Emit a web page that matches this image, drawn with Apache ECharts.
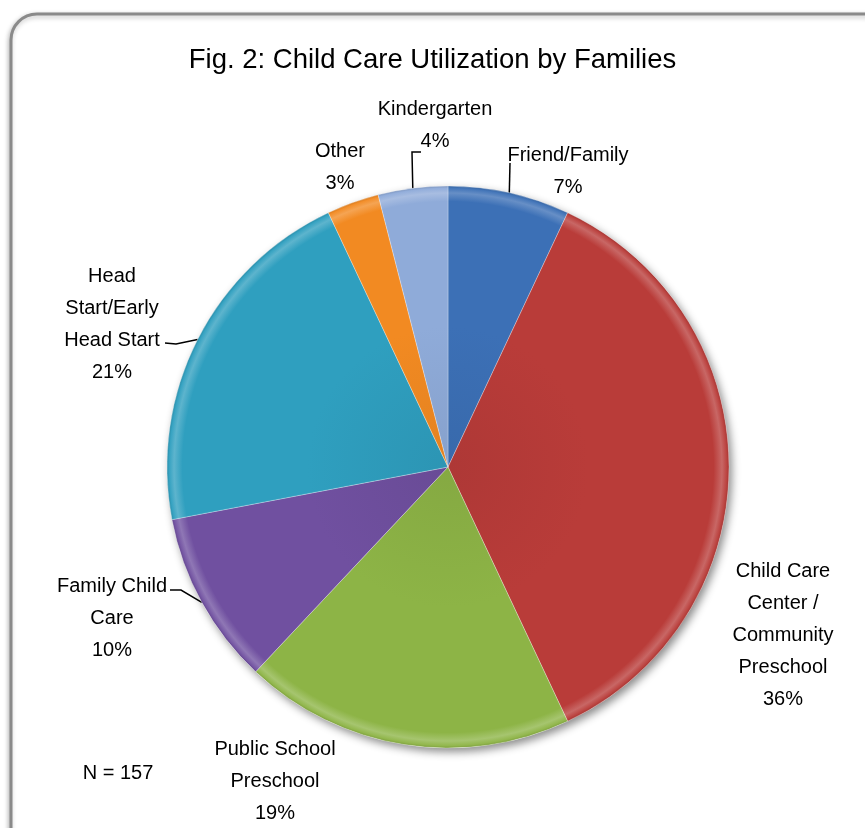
<!DOCTYPE html>
<html>
<head>
<meta charset="utf-8">
<title>Child Care Utilization by Families</title>
<script src="https://cdn.jsdelivr.net/npm/echarts@6/dist/echarts.min.js"></script>
<style>
  html, body { margin: 0; padding: 0; background: #fff; }
  #chart { width: 865px; height: 828px; }
</style>
</head>
<body>
<div id="chart"></div>
<script>
// Care arrangements, clockwise from 12 o'clock
const categories = [
  'Friend/Family',
  'Child Care Center / Community Preschool',
  'Public School Preschool',
  'Family Child Care',
  'Head Start/Early Head Start',
  'Other',
  'Kindergarten'
];
// Share of families (percent)
const shares = [7, 36, 19, 10, 21, 3, 4];
// Wrapped label text for each slice
const labelNames = [
  'Friend/Family',
  'Child Care\nCenter /\nCommunity\nPreschool',
  'Public School\nPreschool',
  'Family Child\nCare',
  'Head\nStart/Early\nHead Start',
  'Other',
  'Kindergarten'
];
const sampleNote = 'N = 157';
const titleText = 'Fig. 2: Child Care Utilization by Families';

// Slice colours
const colors = ['#3c70b6', '#b93c39', '#8db446', '#7050a0', '#2f9fbf', '#f28a22', '#8fabd9'];

// Pie geometry
const CX = 448, CY = 467, R = 281;
const FONT = '"Liberation Sans Narrow", "Liberation Sans", Arial, sans-serif';

// Where each label block sits (text centre) and whether it has a leader line
const labelPlacement = [
  { x: 568, y: 171, line: true },
  { x: 783, y: 635, line: false },
  { x: 275, y: 781, line: false },
  { x: 112, y: 618, line: true },
  { x: 112, y: 324, line: true },
  { x: 340, y: 167, line: false },
  { x: 435, y: 125, line: true }
];

function shade(hex, f) {
  const n = parseInt(hex.slice(1), 16);
  let r = (n >> 16) & 255, g = (n >> 8) & 255, b = n & 255;
  if (f >= 0) {
    r = r + (255 - r) * f; g = g + (255 - g) * f; b = b + (255 - b) * f;
  } else {
    r = r * (1 + f); g = g * (1 + f); b = b * (1 + f);
  }
  return 'rgb(' + Math.round(r) + ',' + Math.round(g) + ',' + Math.round(b) + ')';
}

// Rim bevel: flat fill with a light band near the outer edge
function bevelFill(hex) {
  return {
    type: 'radial', x: CX, y: CY, r: R, global: true,
    colorStops: [
      { offset: 0, color: shade(hex, -0.06) },
      { offset: 0.5, color: hex },
      { offset: 0.945, color: hex },
      { offset: 0.975, color: shade(hex, 0.22) },
      { offset: 0.992, color: shade(hex, 0.04) },
      { offset: 1, color: shade(hex, -0.12) }
    ]
  };
}

// Point on the rim at the middle of slice i
const total = shares.reduce((a, b) => a + b, 0);
function rimPoint(i) {
  let before = 0;
  for (let k = 0; k < i; k++) before += shares[k];
  const a = (before + shares[i] / 2) / total * Math.PI * 2;
  return [CX + R * Math.sin(a), CY - R * Math.cos(a)];
}

// Leader line end points next to the label text
const leaderEnds = {
  0: [[510, 163]],
  3: [[181, 590], [170, 590]],
  4: [[176, 344], [165, 343]],
  6: [[412, 152], [421, 152]]
};

const chart = echarts.init(document.getElementById('chart'), null, { renderer: 'canvas' });

const pieData = categories.map((name, i) => ({
  name: name,
  value: shares[i],
  itemStyle: { color: bevelFill(colors[i]) },
  labelLine: { show: labelPlacement[i].line }
}));

chart.setOption({
  animation: false,
  backgroundColor: '#ffffff',
  title: {
    text: titleText,
    left: 'center',
    top: 41,
    textStyle: { fontFamily: FONT, fontSize: 27.5, fontWeight: 'normal', color: '#000' }
  },
  graphic: [
    {
      type: 'rect',
      z: -10,
      shape: { x: 11, y: 14, width: 880, height: 840, r: 26 },
      style: {
        fill: '#ffffff', stroke: '#8a8a8a', lineWidth: 3,
        shadowBlur: 5, shadowColor: 'rgba(0,0,0,0.25)', shadowOffsetX: -1, shadowOffsetY: 2
      }
    },
    {
      type: 'text',
      x: 118, y: 773,
      style: {
        text: sampleNote, fill: '#000', font: '20px ' + FONT,
        textAlign: 'center', textVerticalAlign: 'middle'
      }
    }
  ],
  series: [
    {
      // soft drop shadow under the whole pie
      type: 'pie',
      silent: true,
      center: [CX, CY],
      radius: R,
      z: 1,
      label: { show: false },
      labelLine: { show: false },
      itemStyle: {
        color: '#ffffff',
        shadowBlur: 9, shadowColor: 'rgba(0,0,0,0.45)', shadowOffsetX: 3, shadowOffsetY: 4
      },
      data: [{ value: 1, name: 'shadow' }]
    },
    {
      type: 'pie',
      center: [CX, CY],
      radius: R,
      startAngle: 90,
      clockwise: true,
      z: 2,
      avoidLabelOverlap: false,
      itemStyle: { borderColor: 'rgba(255,255,255,0.28)', borderWidth: 1 },
      label: {
        show: true,
        position: 'outside',
        fontFamily: FONT,
        fontSize: 20,
        lineHeight: 32,
        color: '#000',
        align: 'center',
        formatter: (p) => labelNames[p.dataIndex] + '\n' + shares[p.dataIndex] + '%'
      },
      labelLine: { show: true, lineStyle: { color: '#000', width: 1.5 } },
      labelLayout: (p) => {
        const i = p.dataIndex;
        const pl = labelPlacement[i];
        const out = { x: pl.x, y: pl.y, align: 'center', verticalAlign: 'middle' };
        if (pl.line) {
          out.labelLinePoints = [rimPoint(i)].concat(leaderEnds[i]);
        }
        return out;
      },
      emphasis: { disabled: true },
      data: pieData
    }
  ]
});
</script>
</body>
</html>
